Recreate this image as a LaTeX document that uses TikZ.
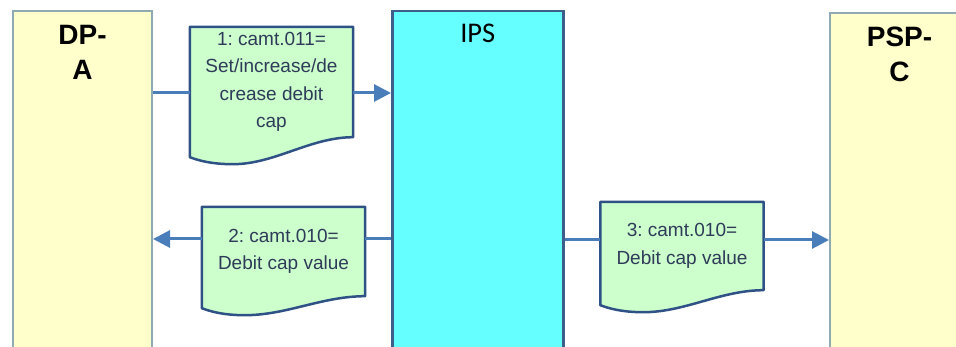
\documentclass[tikz,border=0pt]{standalone}
\usepackage{fontspec}
\setmainfont{Liberation Sans}
\newfontfamily\ipsfont{Carlito}
\usepackage{tikz}
\usetikzlibrary{arrows.meta}
\usetikzlibrary{backgrounds}
\frenchspacing

\definecolor{laneyellow}{HTML}{FFFFCC}
\definecolor{laneedge}{HTML}{8FAAB2}
\definecolor{ipscyan}{HTML}{66FFFF}
\definecolor{ipsedge}{HTML}{3E5F8A}
\definecolor{docgreen}{HTML}{CCFFCC}
\definecolor{docedge}{HTML}{2F5286}
\definecolor{doctext}{HTML}{2E3B58}
\definecolor{flowblue}{HTML}{4A7EBB}

% document shape behind a message node: #1 node, #2 drop of the left corner
\newcommand{\docwave}[2]{%
  \begin{pgfonlayer}{background}
    \draw [docline] (#1.north west) -- (#1.north east) -- (#1.south east)
      .. controls +(-43pt,0pt) and +(42pt,0pt) .. ([shift={(43pt,-#2-7pt)}]#1.south west)
      .. controls +(-22pt,0pt) and +(8pt,-3pt) .. ([yshift=-#2]#1.south west) -- cycle;
  \end{pgfonlayer}}

\begin{document}
\begin{tikzpicture}
    [
    lane/.style={rectangle,draw=laneedge,line width=2pt,fill=laneyellow,anchor=north west,
      minimum width=139pt,minimum height=400pt,inner sep=0pt},
    lanetitle/.style={anchor=north,align=center,inner sep=0pt,yshift=-15pt,
      font=\fontsize{28}{35}\selectfont\bfseries},
    msg/.style={rectangle,inner sep=0pt,minimum width=163pt,align=center,text=doctext,
      font=\fontsize{19}{27.5}\selectfont},
    docline/.style={draw=docedge,line width=2.5pt,fill=docgreen,line join=round},
    flow/.style={draw=flowblue,line width=3pt},
    tip/.style={-{Triangle[length=17pt,width=17pt]}}
    ]
    \useasboundingbox (0pt,0pt) rectangle (956pt,-347pt);

    % lanes
    \node (dpa) at (12pt,-10pt) [lane, label={[lanetitle]north:DP-\\A}] {};
    \node (psp) at (829pt,-12pt) [lane, label={[lanetitle]north:PSP-\\C}] {};
    \node (ips) at (391pt,-10pt) [lane, draw=ipsedge, fill=ipscyan, line width=2.5pt,
      minimum width=171pt, label={[anchor=north,inner sep=0pt,yshift=-14pt,
      font=\ipsfont\fontsize{28.5}{30}\selectfont]north:IPS}] {};

    % messages
    \node (doc1) at (271.5pt,-82pt) [msg, minimum height=110pt]
      {1: camt.011=\\Set/increase/de\\crease debit\\cap};
    \node (doc2) at (283.5pt,-251.5pt) [msg, minimum height=89pt]
      {2: camt.010=\\Debit cap value};
    \node (doc3) at (682pt,-246pt) [msg, minimum height=88pt]
      {3: camt.010=\\Debit cap value};
    \docwave{doc1}{20pt}
    \docwave{doc2}{12pt}
    \docwave{doc3}{15pt}

    % flows
    \coordinate (f1) at (0pt,-93pt);
    \coordinate (f2) at (0pt,-239pt);
    \coordinate (f3) at (0pt,-240pt);
    \draw [flow] (f1 -| dpa.east) to (f1 -| doc1.west);
    \draw [flow,tip] (f1 -| doc1.east) to (f1 -| ips.west);
    \draw [flow] (f2 -| ips.west) to (f2 -| doc2.east);
    \draw [flow,tip] (f2 -| doc2.west) to (f2 -| dpa.east);
    \draw [flow] (f3 -| ips.east) to (f3 -| doc3.west);
    \draw [flow,tip] (f3 -| doc3.east) to (f3 -| psp.west);
\end{tikzpicture}
\end{document}
